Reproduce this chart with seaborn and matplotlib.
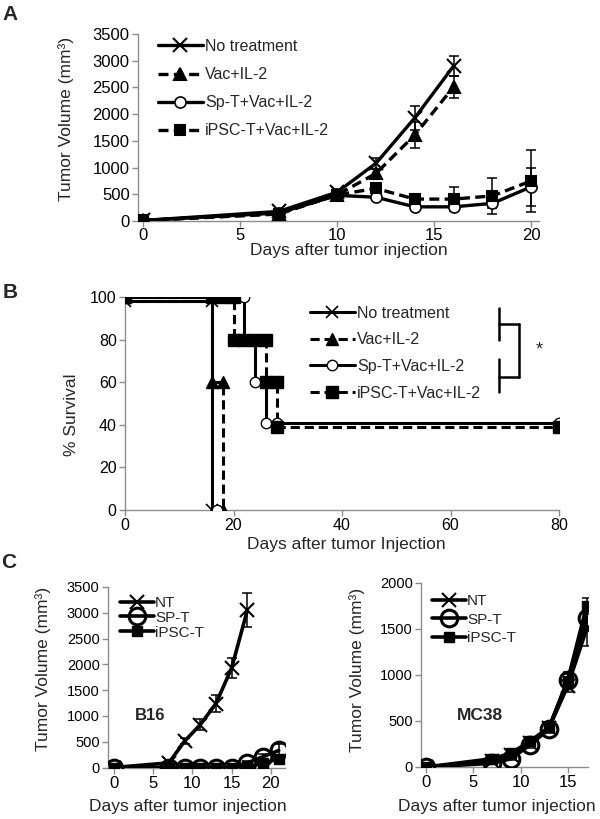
import numpy as np
import pandas as pd
import matplotlib
matplotlib.use("Agg")
import matplotlib.pyplot as plt
import seaborn as sns
from matplotlib.lines import Line2D

sns.set_theme(style="white")
plt.rcParams['font.family'] = ['Liberation Sans', 'DejaVu Sans']

# ---------------- Panel A data ----------------
a_days = [0, 7, 10, 12, 14, 16, 18, 20]
a_labels = ["No treatment", "Vac+IL-2", "Sp-T+Vac+IL-2", "iPSC-T+Vac+IL-2"]
a_nt = [10, 180, 540, 1080, 1930, 2900]
a_nt_err = [20, 40, 60, 100, 230, 180]
a_vac = [10, 130, 490, 890, 1610, 2510]
a_vac_err = [20, 30, 50, 80, 250, 200]
a_spt = [10, 150, 480, 445, 265, 265, 330, 640]
a_spt_err = [20, 30, 40, 40, 40, 60, 80, 360]
a_ipsc = [10, 140, 490, 610, 410, 410, 470, 750]
a_ipsc_err = [20, 30, 40, 60, 100, 220, 340, 580]

# ---------------- Panel B data (step curves) ----------------
b_nt_t = [0, 16, 16]
b_nt_s = [98, 98, 0]
b_vac_t = [0, 16, 16, 18, 18]
b_vac_s = [98, 98, 60, 60, 0]
b_spt_t = [0, 22, 22, 24, 24, 26, 26, 80]
b_spt_s = [100, 100, 80, 80, 60, 60, 41, 41]
b_ipsc_t = [0, 20, 20, 26, 26, 28, 28, 80]
b_ipsc_s = [100, 100, 80, 80, 60, 60, 39, 39]
# marker positions
b_nt_mt = [0, 16, 16]
b_nt_ms = [98, 98, 0]
b_vac_mt = [0, 16, 18, 18]
b_vac_ms = [100, 60, 60, 0]
b_spt_mt = [0, 17, 22, 24, 26, 28, 80]
b_spt_ms = [100, 0, 100, 60, 41, 41, 41]
b_ipsc_mt = [0, 16, 18, 20, 20, 22, 24, 26, 26, 28, 28, 80]
b_ipsc_ms = [100, 100, 100, 100, 80, 80, 80, 80, 60, 60, 39, 39]

# ---------------- Panel C data ----------------
c_labels = ["NT", "SP-T", "iPSC-T"]
b16_days = [0, 7, 9, 11, 13, 15, 17, 19, 21]
b16_nt = [0, 90, 510, 830, 1240, 1930, 3050]
b16_nt_err = [0, 20, 60, 110, 160, 190, 330]
b16_spt = [0, 0, 0, 0, 0, 0, 90, 210, 330]
b16_spt_err = [0, 0, 0, 0, 0, 0, 30, 50, 130]
b16_ipsc = [0, 0, 0, 0, 0, 0, 20, 80, 170]
b16_ipsc_err = [0, 0, 0, 0, 0, 0, 10, 30, 60]

mc38_days = [0, 7, 9, 11, 13, 15, 17]
mc38_nt = [0, 70, 130, 260, 420, 880, 1500]
mc38_nt_err = [0, 10, 20, 30, 40, 60, 190]
mc38_spt = [0, 40, 90, 240, 410, 950, 1620]
mc38_spt_err = [0, 10, 15, 30, 40, 80, 100]
mc38_ipsc = [0, 90, 150, 280, 430, 940, 1750]
mc38_ipsc_err = [0, 15, 20, 30, 40, 70, 90]

W, H = 600, 819
fig = plt.figure(figsize=(W / 100, H / 100), dpi=100)


def rect(x0, y_top, x1, y_bot):
    return [x0 / W, 1 - y_bot / H, (x1 - x0) / W, (y_bot - y_top) / H]


def style_axes(ax, tick_fs_x, tick_fs_y, xpad=2):
    for s in ['top', 'right']:
        ax.spines[s].set_visible(False)
    for s in ['left', 'bottom']:
        ax.spines[s].set_color('#8c8c8c')
        ax.spines[s].set_linewidth(1.0)
    ax.tick_params(axis='both', which='major', direction='out', length=4,
                   width=1.0, color='#8c8c8c', bottom=True, left=True,
                   pad=2, labelcolor='black')
    ax.tick_params(axis='x', labelsize=tick_fs_x, pad=xpad)
    ax.tick_params(axis='y', labelsize=tick_fs_y)
    ax.grid(False)


def series(ax, x, y, err, label, marker, ls, ms, mfc, lw, mew=1.5, capsize=3.5):
    n = len(y)
    xs = x[:n]
    df = pd.DataFrame({"x": xs, "y": y})
    sns.lineplot(data=df, x="x", y="y", ax=ax, color='black', linestyle=ls,
                 linewidth=lw, marker=marker, markersize=ms,
                 markerfacecolor=mfc, markeredgecolor='black',
                 markeredgewidth=mew, label=label, estimator=None, sort=False,
                 zorder=3)
    if err is not None:
        ax.errorbar(xs, y, yerr=err, fmt='none', ecolor='black',
                    elinewidth=1.1, capsize=capsize, capthick=1.1, zorder=2)


# ================= Panel A =================
axA = fig.add_axes(rect(138, 34, 539, 221))
series(axA, a_days, a_nt, a_nt_err, a_labels[0], 'x', '-', 10, 'black', 2.4, mew=1.5)
series(axA, a_days, a_vac, a_vac_err, a_labels[1], '^', (0, (3, 1.6)), 9, 'black', 2.4)
series(axA, a_days, a_spt, a_spt_err, a_labels[2], 'o', '-', 8, 'white', 2.4, mew=1.2)
series(axA, a_days, a_ipsc, a_ipsc_err, a_labels[3], 's', (0, (3, 1.6)), 6.5, 'black', 2.4)
axA.set_xlim(-0.26, 20.4)
axA.set_ylim(0, 3500)
axA.set_xticks([0, 5, 10, 15, 20])
axA.set_yticks(np.arange(0, 3501, 500))
style_axes(axA, 12, 12, xpad=1)
axA.set_xlabel("")
axA.set_ylabel("")
axA.legend(loc='upper left', bbox_to_anchor=(158 / W, 1 - 39 / H),
           bbox_transform=fig.transFigure, frameon=False, fontsize=11.5,
           handlelength=2.8, handletextpad=0.15, labelspacing=0.82,
           borderpad=0, borderaxespad=0, numpoints=1)
fig.text(349 / W, 1 - 251 / H, "Days after tumor injection", fontsize=12.5,
         ha='center', va='center')
fig.text(66 / W, 1 - 119 / H, "Tumor Volume (mm³)", fontsize=12.5,
         rotation=90, ha='center', va='center')
fig.text(10 / W, 1 - 15 / H, "A", fontsize=15, fontweight='bold',
         ha='center', va='center')

# ================= Panel B =================
axB = fig.add_axes(rect(125, 297, 559, 510))
b_lines = [
    (b_nt_t, b_nt_s, b_nt_mt, b_nt_ms, a_labels[0], 'x', '-', 8, 'black', 1.2),
    (b_vac_t, b_vac_s, b_vac_mt, b_vac_ms, a_labels[1], '^', (0, (3, 1.6)), 8, 'black', 1.0),
    (b_spt_t, b_spt_s, b_spt_mt, b_spt_ms, a_labels[2], 'o', '-', 7.5, 'white', 1.0),
    (b_ipsc_t, b_ipsc_s, b_ipsc_mt, b_ipsc_ms, a_labels[3], 's', (0, (3, 1.6)), 9, 'black', 1.0),
]
for t, s, mt, msv, lab, mk, ls, ms, mfc, mew in b_lines:
    sns.lineplot(x=t, y=s, ax=axB, color='black', linestyle=ls, linewidth=2.2,
                 estimator=None, sort=False, zorder=2)
    sns.lineplot(x=mt, y=msv, ax=axB, color='black', linestyle='none',
                 marker=mk, markersize=ms, markerfacecolor=mfc,
                 markeredgecolor='black', markeredgewidth=mew,
                 estimator=None, sort=False, zorder=3)
b_handles = [Line2D([0], [0], color='black', linestyle=ls, linewidth=2.2,
                    marker=mk, markersize=ms, markerfacecolor=mfc,
                    markeredgecolor='black', markeredgewidth=mew)
             for (_, _, _, _, lab, mk, ls, ms, mfc, mew) in b_lines]
axB.legend(b_handles, a_labels, loc='upper left',
           bbox_to_anchor=(310 / W, 1 - 306 / H), bbox_transform=fig.transFigure,
           frameon=False, fontsize=11.5, handlelength=2.8, handletextpad=0.15,
           labelspacing=0.72, borderpad=0, borderaxespad=0, numpoints=1)
axB.set_xlim(0, 80)
axB.set_ylim(0, 100)
axB.set_xticks([0, 20, 40, 60, 80])
axB.set_yticks([0, 20, 40, 60, 80, 100])
style_axes(axB, 11.5, 11.5)
axB.set_xlabel("")
axB.set_ylabel("")
# significance bracket (figure coordinates)
bk = dict(color='black', linewidth=1.8, transform=fig.transFigure, clip_on=False)
fig.add_artist(Line2D([499 / W, 499 / W], [1 - 308 / H, 1 - 340 / H], **bk))
fig.add_artist(Line2D([499 / W, 499 / W], [1 - 359 / H, 1 - 392 / H], **bk))
fig.add_artist(Line2D([499 / W, 519 / W], [1 - 324 / H, 1 - 324 / H], **bk))
fig.add_artist(Line2D([499 / W, 519 / W], [1 - 377 / H, 1 - 377 / H], **bk))
fig.add_artist(Line2D([519 / W, 519 / W], [1 - 324 / H, 1 - 377 / H], **bk))
fig.text(539 / W, 1 - 350 / H, "*", fontsize=13, ha='center', va='center')
fig.text(346 / W, 1 - 544 / H, "Days after tumor Injection", fontsize=12.5,
         ha='center', va='center')
fig.text(72 / W, 1 - 415 / H, "% Survival", fontsize=12.5, rotation=90,
         ha='center', va='center')
fig.text(10 / W, 1 - 292 / H, "B", fontsize=15, fontweight='bold',
         ha='center', va='center')

# ================= Panel C left (B16) =================
axC1 = fig.add_axes(rect(108, 587, 285, 767.5))
series(axC1, b16_days, b16_nt, b16_nt_err, c_labels[0], 'x', '-', 10, 'black', 2.6, mew=1.5, capsize=3.5)
series(axC1, b16_days, b16_spt, b16_spt_err, c_labels[1], 'o', '-', 12, 'none', 2.6, mew=2.2, capsize=3.5)
series(axC1, b16_days, b16_ipsc, b16_ipsc_err, c_labels[2], 's', '-', 6.5, 'black', 2.6, mew=1.0, capsize=3.5)
axC1.set_xlim(-0.76, 21.8)
axC1.set_ylim(0, 3500)
axC1.set_xticks([0, 5, 10, 15, 20])
axC1.set_yticks(np.arange(0, 3501, 500))
style_axes(axC1, 12, 10.5)
axC1.set_xlabel("")
axC1.set_ylabel("")
axC1.legend(loc='upper left', bbox_to_anchor=(120 / W, 1 - 596 / H),
            bbox_transform=fig.transFigure, frameon=False, fontsize=11,
            handlelength=2.2, handletextpad=0.1, labelspacing=0.05,
            borderpad=0, borderaxespad=0, numpoints=1)
axC1.text(150 / W, 1 - 715 / H, "B16", transform=fig.transFigure,
          fontsize=12, fontweight='bold', ha='center', va='center')
fig.text(188 / W, 1 - 806 / H, "Days after tumor injection", fontsize=12.5,
         ha='center', va='center')
fig.text(43 / W, 1 - 669 / H, "Tumor Volume (mm³)", fontsize=12.5,
         rotation=90, ha='center', va='center')
fig.text(9 / W, 1 - 563 / H, "C", fontsize=15, fontweight='bold',
         ha='center', va='center')

# ================= Panel C right (MC38) =================
axC2 = fig.add_axes(rect(421, 583, 588, 767))
series(axC2, mc38_days, mc38_nt, mc38_nt_err, c_labels[0], 'x', '-', 10, 'black', 2.6, mew=1.5)
series(axC2, mc38_days, mc38_spt, mc38_spt_err, c_labels[1], 'o', '-', 12, 'none', 2.6, mew=2.2)
series(axC2, mc38_days, mc38_ipsc, mc38_ipsc_err, c_labels[2], 's', '-', 7, 'black', 2.6, mew=1.0)
axC2.set_xlim(-0.54, 17.15)
axC2.set_ylim(0, 2000)
axC2.set_xticks([0, 5, 10, 15])
axC2.set_yticks([0, 500, 1000, 1500, 2000])
style_axes(axC2, 12, 10.5)
axC2.set_xlabel("")
axC2.set_ylabel("")
axC2.legend(loc='upper left', bbox_to_anchor=(432 / W, 1 - 594 / H),
            bbox_transform=fig.transFigure, frameon=False, fontsize=11,
            handlelength=2.2, handletextpad=0.1, labelspacing=0.3,
            borderpad=0, borderaxespad=0, numpoints=1)
axC2.text(480 / W, 1 - 715 / H, "MC38", transform=fig.transFigure,
          fontsize=12.5, fontweight='bold', ha='center', va='center')
fig.text(497 / W, 1 - 806 / H, "Days after tumor injection", fontsize=12.5,
         ha='center', va='center')
fig.text(357 / W, 1 - 670 / H, "Tumor Volume (mm³)", fontsize=12.5,
         rotation=90, ha='center', va='center')

fig.savefig("out.png", dpi=100, facecolor='white')
